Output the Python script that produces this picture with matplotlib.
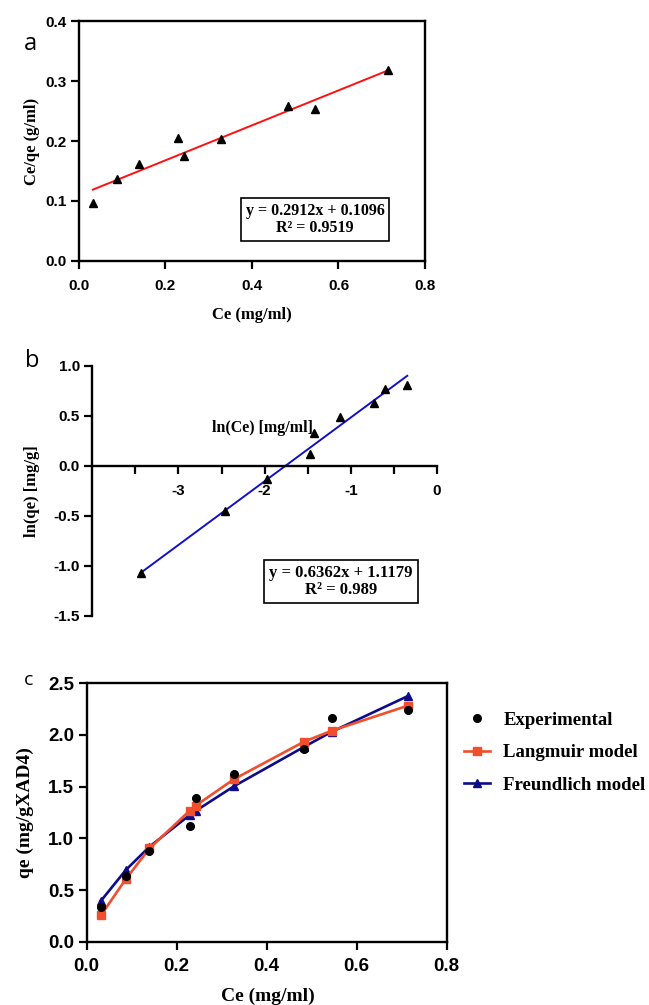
#!/usr/bin/env python3

import numpy as np
import matplotlib
matplotlib.use('Agg')
import matplotlib.pyplot as plt

plt.rcParams['axes.unicode_minus'] = False

# ---- data ----
ce = [0.032, 0.087, 0.1395, 0.229, 0.242, 0.328, 0.483, 0.545, 0.714]   # mg/ml
ce_over_qe = [0.096, 0.137, 0.161, 0.205, 0.175, 0.203, 0.259, 0.253, 0.318]
lang_slope, lang_int, lang_r2 = 0.2912, 0.1096, 0.9519

ln_ce = [-3.44, -2.455, -1.975, -1.477, -1.43, -1.12, -0.73, -0.605, -0.345]
ln_qe = [-1.072, -0.45, -0.131, 0.115, 0.325, 0.485, 0.625, 0.764, 0.807]
freu_slope, freu_int, freu_r2 = 0.6362, 1.1179, 0.989

qe_exp = [0.339, 0.635, 0.877, 1.123, 1.387, 1.623, 1.868, 2.161, 2.242]
qe_langmuir = [0.258, 0.606, 0.903, 1.268, 1.316, 1.574, 1.935, 2.042, 2.284]
qe_freundlich = [0.397, 0.694, 0.919, 1.226, 1.265, 1.506, 1.885, 2.032, 2.377]

tick_font = dict(family='Liberation Sans', weight='bold')
serif = 'Liberation Serif'

fig = plt.figure(figsize=(6.49, 10.05), dpi=100)


def style_ticks(ax, size):
    ax.tick_params(axis='both', which='both', direction='out', length=6, width=1.6,
                   labelsize=size)
    for lab in ax.get_xticklabels() + ax.get_yticklabels():
        lab.set_fontfamily(tick_font['family'])
        lab.set_fontweight(tick_font['weight'])


# ---------------- panel a : Langmuir linear form ----------------
ax1 = fig.add_axes([0.1217, 0.7403, 0.5331, 0.2388])
ax1.plot(ce, ce_over_qe, '^', color='black', ms=6, zorder=3)
xfit = np.array([min(ce), max(ce)])
ax1.plot(xfit, lang_slope * xfit + lang_int, color='#ff1010', lw=1.4)
ax1.set_xlim(0, 0.8)
ax1.set_ylim(0, 0.4)
ax1.set_xticks(np.arange(0, 0.81, 0.2))
ax1.set_yticks(np.arange(0, 0.41, 0.1))
ax1.xaxis.set_major_formatter('{x:.1f}')
ax1.yaxis.set_major_formatter('{x:.1f}')
for s in ax1.spines.values():
    s.set_linewidth(1.7)
style_ticks(ax1, 11)
ax1.tick_params(axis='x', pad=7)
ax1.tick_params(axis='y', pad=3)
ax1.set_xlabel('Ce (mg/ml)', family=serif, weight='bold', fontsize=12)
ax1.set_ylabel('Ce/qe (g/ml)', family=serif, weight='bold', fontsize=12)
ax1.xaxis.set_label_coords(0.5, -0.225)
ax1.xaxis.label.set_verticalalignment('center')
ax1.yaxis.set_label_coords(-0.136, 0.5)
ax1.yaxis.label.set_verticalalignment('center')
ax1.text(0.682, 0.173, 'y = %.4fx + %.4f\nR² = %.4f' % (lang_slope, lang_int, lang_r2),
         transform=ax1.transAxes, ha='center', va='center', family=serif,
         weight='bold', fontsize=11.5, linespacing=1.1,
         bbox=dict(boxstyle='square,pad=0.3', fc='white', ec='black', lw=1.2))
fig.text(30 / 649, 1 - 44 / 1005, 'a', family='Open Sans', fontsize=17,
         ha='center', va='center')

# ---------------- panel b : Freundlich linear form ----------------
ax2 = fig.add_axes([0.1422, 0.3871, 0.5311, 0.2491])
ax2.plot(ln_ce, ln_qe, '^', color='black', ms=6, zorder=3)
xfit = np.array([min(ln_ce), max(ln_ce)])
ax2.plot(xfit, freu_slope * xfit + freu_int, color='#1010c8', lw=1.4)
ax2.set_xlim(-4, 0)
ax2.set_ylim(-1.5, 1.0)
ax2.set_xticks([-3, -2, -1, 0])
ax2.set_xticks([-3.5, -2.5, -1.5, -0.5], minor=True)
ax2.set_yticks(np.arange(-1.5, 1.01, 0.5))
ax2.xaxis.set_major_formatter('{x:.0f}')
ax2.yaxis.set_major_formatter('{x:.1f}')
ax2.spines['right'].set_visible(False)
ax2.spines['top'].set_visible(False)
ax2.spines['bottom'].set_position(('data', 0))
ax2.spines['bottom'].set_linewidth(1.7)
ax2.spines['left'].set_linewidth(1.7)
style_ticks(ax2, 11)
ax2.tick_params(axis='x', which='both', pad=7)
ax2.tick_params(axis='y', pad=3)
ax2.set_ylabel('ln(qe) [mg/g]', family=serif, weight='bold', fontsize=12)
ax2.yaxis.set_label_coords(-0.175, 0.5)
ax2.yaxis.label.set_verticalalignment('center')
ax2.text(-2.03, 0.38, 'ln(Ce) [mg/ml]', family=serif, weight='bold', fontsize=11.5,
         ha='center', va='center')
ax2.text(0.722, 0.139, 'y = %.4fx + %.4f\nR² = %.3f' % (freu_slope, freu_int, freu_r2),
         transform=ax2.transAxes, ha='center', va='center', family=serif,
         weight='bold', fontsize=12, linespacing=1.1,
         bbox=dict(boxstyle='square,pad=0.3', fc='white', ec='black', lw=1.2))
fig.text(32 / 649, 1 - 361 / 1005, 'b', family='Open Sans', fontsize=17,
         ha='center', va='center')

# ---------------- panel c : model fits ----------------
ax3 = fig.add_axes([0.1336, 0.0630, 0.5547, 0.2571])
ax3.plot(ce, qe_langmuir, '-s', color='#f04e2d', lw=1.9, ms=6,
         label='Langmuir model', zorder=2)
ax3.plot(ce, qe_freundlich, '-^', color='#0c0c8a', lw=1.9, ms=6,
         label='Freundlich model', zorder=1)
ax3.plot(ce, qe_exp, 'o', color='black', ms=5.5, label='Experimental', zorder=3)
ax3.set_xlim(0, 0.8)
ax3.set_ylim(0, 2.5)
ax3.set_xticks(np.arange(0, 0.81, 0.2))
ax3.set_yticks(np.arange(0, 2.51, 0.5))
ax3.xaxis.set_major_formatter('{x:.1f}')
ax3.yaxis.set_major_formatter('{x:.1f}')
for s in ax3.spines.values():
    s.set_linewidth(1.7)
style_ticks(ax3, 13.5)
ax3.tick_params(axis='x', pad=6)
ax3.tick_params(axis='y', pad=3)
ax3.set_xlabel('Ce (mg/ml)', family=serif, weight='bold', fontsize=14)
ax3.set_ylabel('qe (mg/gXAD4)', family=serif, weight='bold', fontsize=14)
ax3.xaxis.set_label_coords(0.502, -0.21)
ax3.xaxis.label.set_verticalalignment('center')
ax3.yaxis.set_label_coords(-0.17, 0.5)
ax3.yaxis.label.set_verticalalignment('center')
h, l = ax3.get_legend_handles_labels()
order = [2, 0, 1]
ax3.legend([h[i] for i in order], [l[i] for i in order], loc='upper left',
           bbox_to_anchor=(1.048, 0.89), frameon=False, borderpad=0,
           borderaxespad=0, handlelength=1.4, handletextpad=0.7,
           labelspacing=0.82, prop=dict(family=serif, weight='bold', size=13.5))
fig.text(29 / 649, 1 - 680 / 1005, 'c', family='Open Sans', fontsize=14,
         ha='center', va='center')

fig.savefig('out.png', dpi=100)
